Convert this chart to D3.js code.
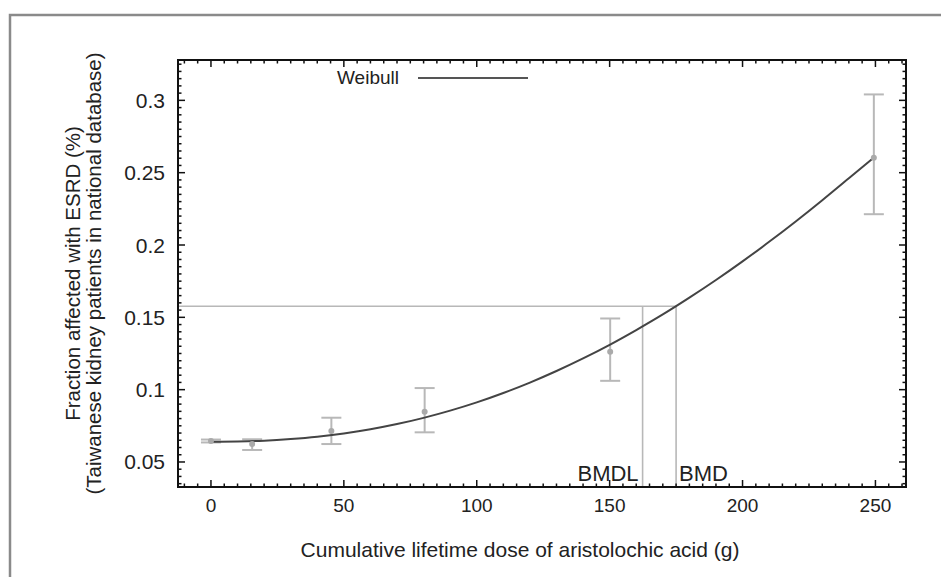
<!DOCTYPE html>
<html>
<head>
<meta charset="utf-8">
<script src="https://cdn.jsdelivr.net/npm/d3@7"></script>
<style>
  body { margin: 0; background: #fff; }
  text { font-family: "Liberation Sans", Arial, sans-serif; fill: #222; }
</style>
</head>
<body>
<div id="chart"></div>
<script>
// data
const doses = [0, 15.5, 45.3, 80.4, 150.2, 249.4];
const fractions = [0.0645, 0.0624, 0.0714, 0.0847, 0.1262, 0.2604];
const lowerCI = [0.0635, 0.0583, 0.0624, 0.0705, 0.1061, 0.2213];
const upperCI = [0.0655, 0.0657, 0.0806, 0.1011, 0.1492, 0.3041];

// Weibull fit, sampled from the drawn curve
const curveX = [0, 10, 20, 30, 40, 50, 60, 70, 80, 90, 100, 110, 120, 130, 140, 150, 160, 170, 180, 190, 200, 210, 220, 230, 240, 249.4];
const curveY = [0.0640, 0.0642, 0.0647, 0.0658, 0.0674, 0.0697, 0.0726, 0.0762, 0.0805, 0.0855, 0.0912, 0.0977, 0.1049, 0.1129, 0.1216, 0.1310, 0.1412, 0.1520, 0.1636, 0.1758, 0.1887, 0.2022, 0.2163, 0.2310, 0.2462, 0.2604];

const bmdl = 162.4;
const bmd = 175.0;
const bmr = 0.1577;

const xTicks = [0, 50, 100, 150, 200, 250];
const yTicks = [0.05, 0.1, 0.15, 0.2, 0.25, 0.3];

const W = 941, H = 577;
const L = 178, R = 906, T = 60, B = 487;

const svg = d3.select("#chart").append("svg")
  .attr("width", W).attr("height", H);

// outer frame (only top and left edges visible)
svg.append("path")
  .attr("d", `M10,${H} L10,15 L${W},15`)
  .attr("fill", "none").attr("stroke", "#8a8a8a").attr("stroke-width", 2.5);

const x = d3.scaleLinear().domain([-12.4, 261.5]).range([L, R]);
const y = d3.scaleLinear().domain([0.0327, 0.3279]).range([B, T]);

const g = svg.append("g");

// reference lines
g.append("line")
  .attr("x1", L).attr("x2", x(bmd)).attr("y1", y(bmr)).attr("y2", y(bmr))
  .attr("stroke", "#b8b8b8").attr("stroke-width", 1.6);
for (let v of [bmdl, bmd]) {
  g.append("line")
    .attr("x1", x(v)).attr("x2", x(v)).attr("y1", y(bmr)).attr("y2", B)
    .attr("stroke", "#b8b8b8").attr("stroke-width", 1.6);
}
g.append("text").attr("x", x(bmdl) - 4).attr("y", 481)
  .attr("text-anchor", "end").attr("font-size", 22).text("BMDL");
g.append("text").attr("x", x(bmd) + 3).attr("y", 481)
  .attr("font-size", 22).text("BMD");

// error bars
const pts = doses.map((d, i) => ({x: d, y: fractions[i], lo: lowerCI[i], hi: upperCI[i]}));
const bars = g.selectAll(".err").data(pts).enter().append("g")
  .attr("stroke", "#b8b8b8").attr("stroke-width", 2);
bars.append("line")
  .attr("x1", d => x(d.x)).attr("x2", d => x(d.x))
  .attr("y1", d => y(d.lo)).attr("y2", d => y(d.hi));
bars.append("line")
  .attr("x1", d => x(d.x) - 10).attr("x2", d => x(d.x) + 10)
  .attr("y1", d => y(d.lo)).attr("y2", d => y(d.lo));
bars.append("line")
  .attr("x1", d => x(d.x) - 10).attr("x2", d => x(d.x) + 10)
  .attr("y1", d => y(d.hi)).attr("y2", d => y(d.hi));

// fitted curve
const line = d3.line().x(d => x(d[0])).y(d => y(d[1])).curve(d3.curveMonotoneX);
g.append("path")
  .datum(curveX.map((v, i) => [v, curveY[i]]))
  .attr("d", line)
  .attr("fill", "none").attr("stroke", "#444").attr("stroke-width", 2);

// markers
g.selectAll(".pt").data(pts).enter().append("circle")
  .attr("cx", d => x(d.x)).attr("cy", d => y(d.y)).attr("r", 3)
  .attr("fill", "#aaa");

// axes box with mirrored inward ticks
const xMinor = d3.range(-10, 261, 5);
const yMinor = d3.range(0.035, 0.3276, 0.005);
const axes = svg.append("g").attr("stroke", "#111").attr("stroke-width", 1.5);
axes.append("rect")
  .attr("x", L).attr("y", T).attr("width", R - L).attr("height", B - T)
  .attr("fill", "none").attr("stroke-width", 2);
for (let v of xMinor) {
  const len = xTicks.includes(v) ? 7 : 3.5;
  axes.append("line").attr("x1", x(v)).attr("x2", x(v)).attr("y1", B).attr("y2", B - len);
  axes.append("line").attr("x1", x(v)).attr("x2", x(v)).attr("y1", T).attr("y2", T + len);
}
for (let v of yMinor) {
  const major = yTicks.some(t => Math.abs(t - v) < 1e-6);
  const len = major ? 7 : 3.5;
  axes.append("line").attr("x1", L).attr("x2", L + len).attr("y1", y(v)).attr("y2", y(v));
  axes.append("line").attr("x1", R).attr("x2", R - len).attr("y1", y(v)).attr("y2", y(v));
}

// tick labels
svg.selectAll(".xl").data(xTicks).enter().append("text")
  .attr("x", d => x(d)).attr("y", 512)
  .attr("text-anchor", "middle").attr("font-size", 19)
  .text(d => d);
svg.selectAll(".yl").data(yTicks).enter().append("text")
  .attr("x", 165).attr("y", d => y(d) + 7.5)
  .attr("text-anchor", "end").attr("font-size", 21)
  .text(d => d);

// axis titles
svg.append("text").attr("x", (L + R) / 2 - 22).attr("y", 557)
  .attr("text-anchor", "middle").attr("font-size", 21)
  .text("Cumulative lifetime dose of aristolochic acid (g)");
svg.append("text")
  .attr("transform", `translate(80,${(T + B) / 2}) rotate(-90)`)
  .attr("text-anchor", "middle").attr("font-size", 20.5)
  .text("Fraction affected with ESRD (%)");
svg.append("text")
  .attr("transform", `translate(101,${(T + B) / 2}) rotate(-90)`)
  .attr("text-anchor", "middle").attr("font-size", 20.5)
  .text("(Taiwanese kidney patients in national database)");

// legend
svg.append("text").attr("x", 337).attr("y", 84).attr("font-size", 19).text("Weibull");
svg.append("line").attr("x1", 418).attr("x2", 528).attr("y1", 78).attr("y2", 78)
  .attr("stroke", "#555").attr("stroke-width", 2);
</script>
</body>
</html>
